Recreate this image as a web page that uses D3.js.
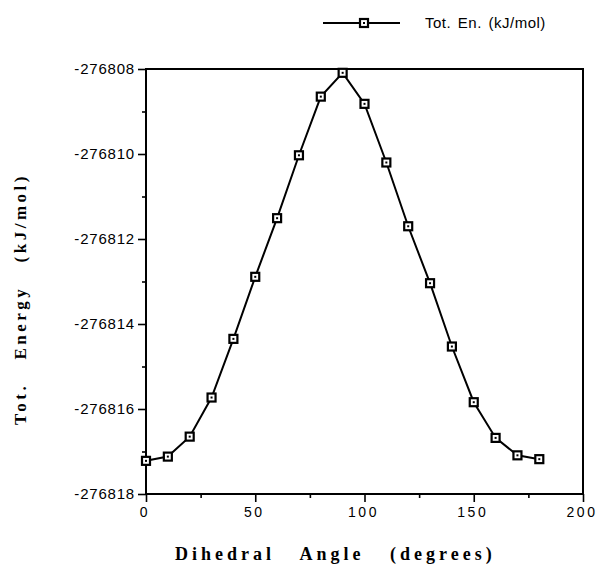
<!DOCTYPE html>
<html>
<head>
<meta charset="utf-8">
<script src="https://cdn.jsdelivr.net/npm/d3@7"></script>
<style>
body { margin: 0; background: #fff; }
.tickLabel text { font-family: "Liberation Sans", Arial, sans-serif; fill: #000; }
.axisTitle { font-family: "Liberation Serif", "Times New Roman", serif; font-weight: bold; fill: #000; }
</style>
</head>
<body>
<div id="chartContainer"></div>
<script>
// dihedral scan, values
var angles = [0, 10, 20, 30, 40, 50, 60, 70, 80, 90, 100, 110, 120, 130, 140, 150, 160, 170, 180]
var energies = [-276817.22, -276817.12, -276816.65, -276815.73, -276814.35, -276812.89, -276811.51,
	-276810.03, -276808.65, -276808.09, -276808.82, -276810.20, -276811.70, -276813.04,
	-276814.53, -276815.84, -276816.68, -276817.09, -276817.18]

var yTickValues = [-276818, -276816, -276814, -276812, -276810, -276808]
var yMinorValues = [-276817, -276815, -276813, -276811, -276809]
var xTickValues = [0, 50, 100, 150, 200]
var xMinorValues = [25, 75, 125, 175]

var seriesLabel = "Tot. En. (kJ/mol)"
var xTitle = "Dihedral   Angle   (degrees)"
var yTitle = "Tot.   Energy   (kJ/mol)"

function getW(){ return 598; }
function getH(){ return 565; }
function getPlotBox(){
	return {"left": 146, "right": 583, "top": 69, "bottom": 494}
}

function drawMarker(sel){
	sel.append("rect")
		.attr("x", -4).attr("y", -4)
		.attr("width", 8).attr("height", 8)
		.style("fill", "#fff")
		.style("stroke", "#000")
		.style("stroke-width", 2.2)
	sel.append("rect")
		.attr("x", -1).attr("y", -1)
		.attr("width", 2).attr("height", 2)
		.style("fill", "#000")
}

function initChart(){
	var svg = d3.select("#chartContainer").append("svg")
		.attr("width", getW())
		.attr("height", getH())

	var box = getPlotBox()

	var x = d3.scaleLinear()
		.domain([0, 200])
		.range([box.left, box.right])

	var y = d3.scaleLinear()
		.domain([-276818, -276808])
		.range([box.bottom, box.top])

	var fmt = function(d){ return String(d) }

	// y axis, major + minor ticks
	var yAxis = svg.append("g")
		.attr("class", "tickLabel")
		.attr("transform", "translate(" + box.left + ",0)")
		.call(d3.axisLeft(y).tickValues(yTickValues).tickSize(8).tickPadding(3).tickFormat(fmt))
	yAxis.select(".domain").remove()
	yAxis.selectAll("line").style("stroke-width", 1.6)
	yAxis.selectAll("text")
		.style("font-size", "15px")
		.style("letter-spacing", "0.8px")

	var yMinor = svg.append("g")
		.attr("transform", "translate(" + box.left + ",0)")
		.call(d3.axisLeft(y).tickValues(yMinorValues).tickSize(4).tickFormat(""))
	yMinor.select(".domain").remove()
	yMinor.selectAll("line").style("stroke-width", 1.6)

	// x axis
	var xAxis = svg.append("g")
		.attr("class", "tickLabel")
		.attr("transform", "translate(0," + box.bottom + ")")
		.call(d3.axisBottom(x).tickValues(xTickValues).tickSize(8).tickPadding(5).tickFormat(fmt))
	xAxis.select(".domain").remove()
	xAxis.selectAll("line").style("stroke-width", 1.6)
	xAxis.selectAll("text")
		.style("font-size", "14px")
		.style("letter-spacing", "2.5px")
		.attr("dx", "-1.5px")

	var xMinor = svg.append("g")
		.attr("transform", "translate(0," + box.bottom + ")")
		.call(d3.axisBottom(x).tickValues(xMinorValues).tickSize(4).tickFormat(""))
	xMinor.select(".domain").remove()
	xMinor.selectAll("line").style("stroke-width", 1.6)

	// frame
	svg.append("rect")
		.attr("x", box.left)
		.attr("y", box.top)
		.attr("width", box.right - box.left)
		.attr("height", box.bottom - box.top)
		.style("fill", "none")
		.style("stroke", "#000")
		.style("stroke-width", 2)

	var data = angles.map(function(a, i){ return {"a": a, "e": energies[i]} })

	var line = d3.line()
		.x(function(d){ return x(d.a) })
		.y(function(d){ return y(d.e) })

	svg.append("path")
		.datum(data)
		.attr("d", line)
		.style("fill", "none")
		.style("stroke", "#000")
		.style("stroke-width", 2)

	svg.selectAll("g.pt")
		.data(data)
		.enter().append("g")
			.attr("class", "pt")
			.attr("transform", function(d){ return "translate(" + x(d.a) + "," + y(d.e) + ")" })
			.call(drawMarker)

	// legend
	var legend = svg.append("g").attr("transform", "translate(323,23)")
	legend.append("line")
		.attr("x1", 0).attr("x2", 77)
		.attr("y1", 0).attr("y2", 0)
		.style("stroke", "#000")
		.style("stroke-width", 2)
	legend.append("g")
		.attr("transform", "translate(41,0)")
		.call(drawMarker)
	legend.append("text")
		.attr("x", 102)
		.attr("y", 5)
		.style("font-family", "'Liberation Sans', Arial, sans-serif")
		.style("font-size", "15px")
		.style("letter-spacing", "0.5px")
		.style("word-spacing", "2px")
		.text(seriesLabel)

	// axis titles
	svg.append("text")
		.attr("class", "axisTitle")
		.attr("x", 175)
		.attr("y", 560)
		.attr("xml:space", "preserve")
		.style("white-space", "pre")
		.style("font-size", "18px")
		.style("letter-spacing", "4px")
		.text(xTitle)

	svg.append("text")
		.attr("class", "axisTitle")
		.attr("transform", "translate(26,425) rotate(-90)")
		.attr("xml:space", "preserve")
		.style("white-space", "pre")
		.style("font-size", "17px")
		.style("letter-spacing", "3.5px")
		.text(yTitle)
}

initChart()
</script>
</body>
</html>
